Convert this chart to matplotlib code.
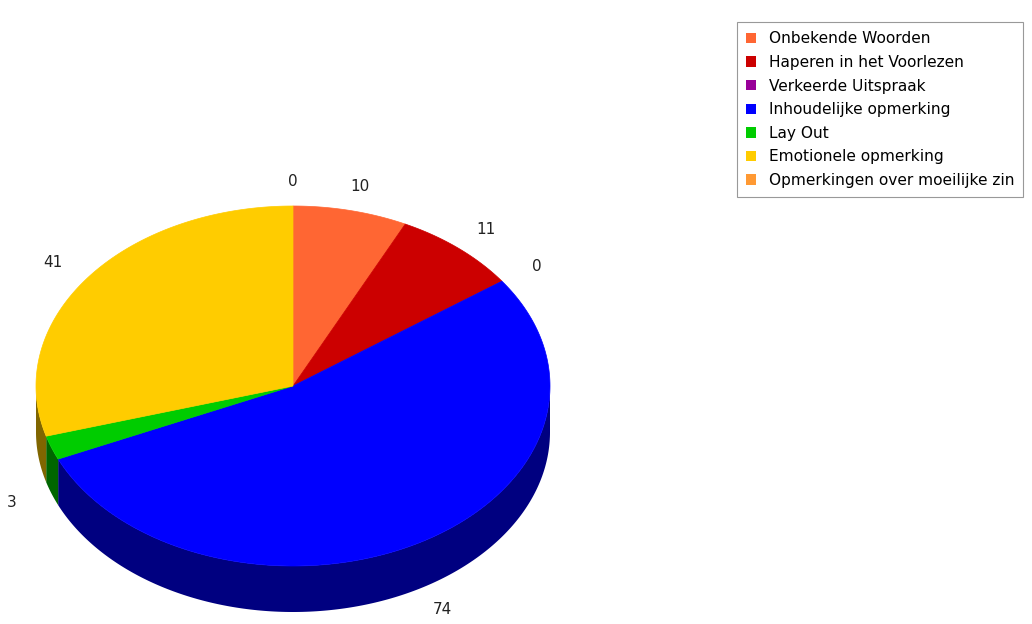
import numpy as np
import matplotlib
matplotlib.use("Agg")
from matplotlib import pyplot as plt
from matplotlib.patches import Polygon, Patch

categories = [
    "Onbekende Woorden",
    "Haperen in het Voorlezen",
    "Verkeerde Uitspraak",
    "Inhoudelijke opmerking",
    "Lay Out",
    "Emotionele opmerking",
    "Opmerkingen over moeilijke zin",
]
values = [10, 11, 0, 74, 3, 41, 0]
colors = ["#FF6633", "#CC0000", "#990099", "#0000FF", "#00CC00", "#FFCC00", "#FF9933"]

# pie geometry in pixels (y grows downward)
cx, cy = 293, 386
rx, ry = 257, 180
depth = 46
lrx, lry = 300, 205


def darker(color, f=0.5):
    r, g, b = matplotlib.colors.to_rgb(color)
    return (r * f, g * f, b * f)


def ellipse_pts(a, b, n=200, dy=0):
    t = np.radians(np.linspace(a, b, n))
    return np.column_stack([cx + rx * np.cos(t), cy - ry * np.sin(t) + dy])


fig = plt.figure(figsize=(10.32, 6.24), dpi=100)
ax = fig.add_axes([0, 0, 1, 1])
ax.set_xlim(0, 1032)
ax.set_ylim(624, 0)
ax.axis("off")

total = sum(values)
starts = []
ang = 90.0
for v in values:
    ext = 360.0 * v / total
    starts.append((ang, ang - ext))
    ang -= ext

# side walls: only the front part of each arc (sin < 0)
for (a0, a1), col in zip(starts, colors):
    lo, hi = a1, a0
    for k in range(-2, 2):
        f_lo, f_hi = -180 + 360 * k, 0 + 360 * k
        s, e = max(lo, f_lo), min(hi, f_hi)
        if e - s > 0:
            top = ellipse_pts(s, e)
            bot = ellipse_pts(e, s, dy=depth)
            ax.add_patch(Polygon(np.vstack([top, bot]), closed=True,
                                 facecolor=darker(col), edgecolor="none"))

# top faces
for (a0, a1), col in zip(starts, colors):
    if a0 - a1 <= 0:
        continue
    arc = ellipse_pts(a0, a1)
    pts = np.vstack([[cx, cy], arc])
    ax.add_patch(Polygon(pts, closed=True, facecolor=col, edgecolor=col, linewidth=0.5))

# labels
for (a0, a1), v in zip(starts, values):
    m = np.radians((a0 + a1) / 2)
    x = cx + lrx * np.cos(m)
    y = cy - lry * np.sin(m)
    if np.sin(m) < 0:
        y += depth
    ax.text(x, y, str(v), ha="center", va="center", fontsize=11, color="#222222")

handles = [Patch(facecolor=c, edgecolor="none") for c in colors]
leg = ax.legend(handles, categories, loc="upper left",
                bbox_to_anchor=(737 / 1032, 1 - 22 / 624), bbox_transform=fig.transFigure,
                frameon=True, fancybox=False, framealpha=1, edgecolor="#999999",
                fontsize=11.1, handlelength=0.65, handleheight=0.65, handletextpad=0.8,
                labelspacing=0.56, borderpad=0.6, borderaxespad=0)
leg.get_frame().set_linewidth(0.8)

fig.savefig("out.png", dpi=100)
